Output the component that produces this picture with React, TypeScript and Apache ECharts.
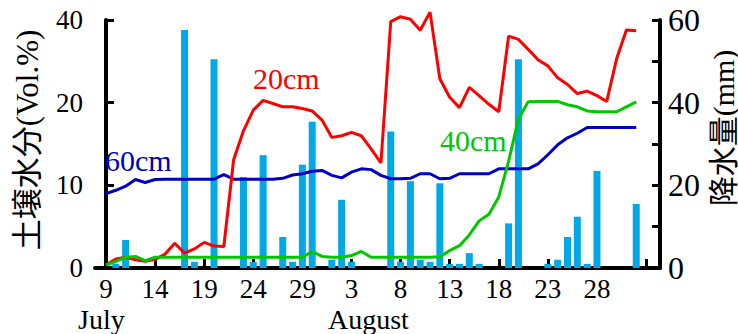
import React, { useEffect, useRef } from "react";
import * as echarts from "echarts";

// Day index 0 = July 9
const xTickDays = [0, 5, 10, 15, 20, 25, 30, 35, 40, 45, 50];
const xTickLabels = ["9", "14", "19", "24", "29", "3", "8", "13", "18", "23", "28"];
const xExtraTickDays = [55];

const leftTickValues = [0, 10, 20, 40];
const leftTickLabels = ["0", "10", "20", "40"];
const rightLabelValues = [0, 20, 40, 60];

// Soil moisture (Vol.%), daily from July 9 (d0) to Sept 1 (d54)
const soil20 = [
  0.35, 1.1, 1.3, 1.0, 0.8, 1.05, 1.65, 3.0, 1.8, 2.3,
  3.1, 2.65, 2.6, 13.1, 16.6, 19.1, 20.55, 19.9, 19.5, 19.5,
  19.3, 19.0, 17.9, 15.8, 16.0, 16.4, 16.0, 14.4, 12.7, 39.6,
  40.8, 40.2, 37.5, 41.9, 25.8, 21.3, 19.4, 23.7, 21.7, 19.8,
  18.9, 36.1, 35.3, 32.9, 30.4, 28.9, 26.0, 24.4, 22.2, 22.8,
  21.7, 20.3, 30.6, 37.6, 37.4,
];
const soil40 = [
  0.35, 0.8, 1.3, 1.4, 0.9, 1.3, 1.3, 1.3, 1.3, 1.3,
  1.3, 1.3, 1.3, 1.3, 1.3, 1.3, 1.3, 1.3, 1.3, 1.3,
  1.3, 2.0, 1.4, 1.3, 1.3, 1.5, 2.0, 1.3, 1.3, 1.3,
  1.3, 1.3, 1.3, 1.3, 1.35, 2.1, 2.7, 4.0, 5.7, 6.5,
  8.6, 12.9, 18.0, 20.25, 20.3, 20.3, 20.3, 19.75, 19.5, 19.0,
  18.9, 18.9, 18.9, 19.5, 20.2,
];
const soil60 = [
  9.0, 9.4, 9.9, 10.7, 10.35, 10.7, 10.75, 10.75, 10.75, 10.75,
  10.75, 10.75, 11.3, 10.75, 10.75, 10.75, 10.75, 10.75, 10.85, 11.25,
  11.4, 11.7, 11.8, 11.2, 10.9, 11.6, 12.0, 11.9, 11.2, 10.8,
  10.8, 10.85, 11.4, 11.4, 10.8, 10.85, 11.4, 11.4, 11.4, 11.4,
  12.0, 12.0, 12.0, 12.0, 12.6, 13.7, 14.9, 15.75, 16.3, 17.0,
  17.0, 17.0, 17.0, 17.0, 17.0,
];

// Precipitation (mm): [day index, mm]
const rainDays = [1, 2, 8, 9, 11, 14, 15, 16, 18, 19, 20, 21, 23, 24, 25, 29, 30, 31, 32, 33, 34, 35, 36, 37, 38, 41, 42, 45, 46, 47, 48, 49, 50, 54];
const rainMm = [1, 6.8, 57.6, 1.5, 50.5, 22, 1.5, 27.3, 7.5, 1.5, 25, 35.4, 2, 16.5, 1.5, 33, 1.5, 21, 2, 1.5, 20.5, 1, 1, 3.6, 1, 10.8, 50.5, 1, 2, 7.5, 12.4, 1, 23.5, 15.5];

const SERIF = "Liberation Serif";
const TITLE_FONT = "Liberation Serif, Noto Sans CJK JP";

function toAxis(v: number): number {
  for (let i = 0; i < leftTickValues.length - 1; i++) {
    const a = leftTickValues[i];
    const b = leftTickValues[i + 1];
    if (v <= b || i === leftTickValues.length - 2) {
      return i + (v - a) / (b - a);
    }
  }
  return 0;
}

export default function App() {
  const ref = useRef<HTMLDivElement>(null);

  useEffect(() => {
    if (!ref.current) return;
    const chart = echarts.init(ref.current, null, { renderer: "svg" });

    const lineSeries = (name: string, values: number[], color: string, z: number) => ({
      name,
      type: "line",
      yAxisIndex: 0,
      data: values.map((v, i) => [i, toAxis(v)]),
      symbol: "none",
      clip: false,
      z,
      lineStyle: { color, width: 3 },
    });

    chart.setOption({
      animation: false,
      backgroundColor: "#ffffff",
      textStyle: { fontFamily: SERIF },
      grid: { left: 95, right: 78, top: 20, bottom: 66, containLabel: false },
      xAxis: {
        type: "value",
        min: -1.12,
        max: 56.42,
        axisLine: { show: true, onZero: false, lineStyle: { color: "#000", width: 4 } },
        axisTick: {
          show: true,
          inside: true,
          length: 9,
          customValues: [...xTickDays, ...xExtraTickDays],
          lineStyle: { color: "#000", width: 3 },
        },
        axisLabel: {
          customValues: xTickDays,
          formatter: (v: number) => {
            const i = xTickDays.indexOf(Math.round(v));
            return i >= 0 ? xTickLabels[i] : "";
          },
          color: "#000",
          fontSize: 27,
          fontFamily: SERIF,
          margin: 7,
        },
        splitLine: { show: false },
      },
      yAxis: [
        {
          type: "value",
          position: "left",
          min: 0,
          max: 3,
          interval: 1,
          axisLine: { show: true, lineStyle: { color: "#000", width: 4 } },
          axisTick: { show: true, inside: true, length: 8, lineStyle: { color: "#000", width: 3 } },
          axisLabel: {
            formatter: (v: number) => leftTickLabels[Math.round(v)] ?? "",
            color: "#000",
            fontSize: 27,
            fontFamily: SERIF,
            margin: 12,
          },
          splitLine: { show: false },
        },
        {
          type: "value",
          position: "right",
          min: 0,
          max: 60,
          interval: 10,
          axisLine: { show: true, lineStyle: { color: "#000", width: 4 } },
          axisTick: { show: true, inside: true, length: 8, lineStyle: { color: "#000", width: 3 } },
          axisLabel: {
            customValues: rightLabelValues,
            formatter: (v: number) => String(v),
            color: "#000",
            fontSize: 32,
            fontFamily: SERIF,
            margin: 8,
          },
          splitLine: { show: false },
        },
      ],
      series: [
        {
          name: "降水量",
          type: "bar",
          yAxisIndex: 1,
          barWidth: 7,
          z: 1,
          itemStyle: { color: "#00A8E6" },
          data: rainDays.map((d, i) => [d, rainMm[i]]),
        },
        lineSeries("60cm", soil60, "#0000C0", 3),
        lineSeries("20cm", soil20, "#FF0000", 4),
        lineSeries("40cm", soil40, "#00C800", 5),
      ],
      graphic: [
        { type: "text", x: 253, y: 78, z: 10, style: { text: "20cm", fill: "#FF0000", fontSize: 30, fontFamily: SERIF, align: "left", verticalAlign: "middle" } },
        { type: "text", x: 105, y: 160, z: 10, style: { text: "60cm", fill: "#0000C0", fontSize: 30, fontFamily: SERIF, align: "left", verticalAlign: "middle" } },
        { type: "text", x: 440, y: 140, z: 10, style: { text: "40cm", fill: "#00C800", fontSize: 30, fontFamily: SERIF, align: "left", verticalAlign: "middle" } },
        { type: "text", x: 78, y: 319, style: { text: "July", fill: "#000", fontSize: 28, fontFamily: SERIF, align: "left", verticalAlign: "middle" } },
        { type: "text", x: 328, y: 319, style: { text: "August", fill: "#000", fontSize: 28, fontFamily: SERIF, align: "left", verticalAlign: "middle" } },
        { type: "text", x: 27, y: 140, rotation: Math.PI / 2, style: { text: "土壌水分(Vol.%)", fill: "#000", fontSize: 31, fontFamily: TITLE_FONT, align: "center", verticalAlign: "middle" } },
        { type: "text", x: 723, y: 128, rotation: Math.PI / 2, style: { text: "降水量(mm)", fill: "#000", fontSize: 30, fontFamily: TITLE_FONT, align: "center", verticalAlign: "middle" } },
      ],
    });

    return () => chart.dispose();
  }, []);

  return (
    <div
      ref={ref}
      style={{ position: "fixed", left: 0, top: 0, width: 738, height: 334, background: "#fff" }}
    />
  );
}
